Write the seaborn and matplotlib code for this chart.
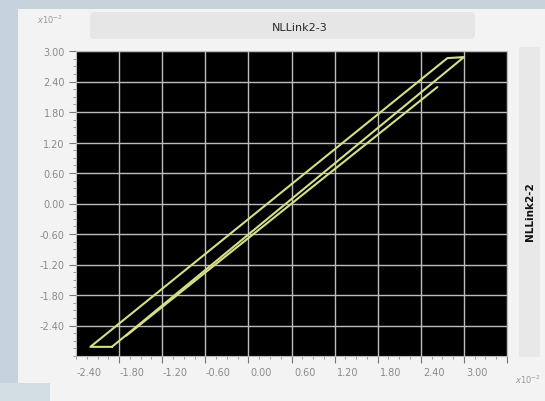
import numpy as np
import pandas as pd
import matplotlib
matplotlib.use("Agg")
import matplotlib.pyplot as plt
from matplotlib.patches import Rectangle, FancyBboxPatch
from matplotlib.transforms import ScaledTranslation
import seaborn as sns

# ---- data (units of 1e-2) ----
outer_x = [-2.50, -2.80, 2.17, 2.40, -2.50]
outer_y = [-2.82, -2.82, 2.86, 2.88, -2.82]
inner_x = [-2.30, 2.03]
inner_y = [-2.60, 2.29]
tick_vals = [-2.4, -1.8, -1.2, -0.6, 0.0, 0.6, 1.2, 1.8, 2.4, 3.0]
tick_labels = ["-2.40", "-1.80", "-1.20", "-0.60", "0.00", "0.60", "1.20", "1.80", "2.40", "3.00"]
title_text = "NLLink2-3"
right_text = "NLLink2-2"

df = pd.DataFrame({
    "x": outer_x + inner_x,
    "y": outer_y + inner_y,
    "seg": ["outer"] * len(outer_x) + ["inner"] * len(inner_x),
})

sns.set_theme(style="white")
plt.rcParams["font.family"] = ["DejaVu Sans"]

fig = plt.figure(figsize=(5.45, 4.02), dpi=100)
fig.patch.set_facecolor("#c7d3dc")
# light panel
fig.add_artist(Rectangle((18 / 545, 0.0), 1 - 18 / 545, 1 - 10 / 402,
                         transform=fig.transFigure, facecolor="#f3f3f3",
                         edgecolor="none", zorder=0))
# bluish bottom-left corner
fig.add_artist(Rectangle((0, 0), 50 / 545, 18 / 402,
                         transform=fig.transFigure, facecolor="#d3dde4",
                         edgecolor="none", zorder=0.5))
# title bar
fig.add_artist(FancyBboxPatch((90 / 545, 1 - 40 / 402), (475 - 90) / 545, 27 / 402,
                              boxstyle="round,pad=0.0,rounding_size=0.01",
                              transform=fig.transFigure, facecolor="#e6e6e6",
                              edgecolor="none", zorder=1))
fig.text(300 / 545, 1 - 28 / 402, title_text, ha="center", va="center",
         fontsize=8, color="#2a2a2a")
# right bar
fig.add_artist(Rectangle((519 / 545, 1 - 358 / 402), 21 / 545, (358 - 48) / 402,
                         transform=fig.transFigure, facecolor="#e8e8e8",
                         edgecolor="none", zorder=1))
fig.text(530 / 545, 1 - 212 / 402, right_text, ha="center", va="center",
         rotation=90, fontsize=7.5, fontweight="bold", color="#111111")
# exponent labels
fig.text(50 / 545, 1 - 20 / 402, r"$x10^{-2}$", ha="center", va="center",
         fontsize=6, color="#999999", style="italic")
fig.text(528 / 545, 1 - 380 / 402, r"$x10^{-2}$", ha="center", va="center",
         fontsize=6, color="#999999", style="italic")

ax = fig.add_axes([76 / 545, 1 - 357 / 402, (507 - 76) / 545, (357 - 52) / 402])
ax.set_facecolor("black")

sns.lineplot(data=df, x="x", y="y", units="seg", estimator=None, sort=False,
             color="#d6de88", linewidth=1.5, ax=ax, legend=False)

ax.set_xlim(-3.0, 3.0)
ax.set_ylim(-3.0, 3.0)
ax.set_xticks(tick_vals)
ax.set_xticklabels(tick_labels)
ax.set_yticks(tick_vals)
ax.set_yticklabels(tick_labels)
ax.set_xticks(np.arange(-3.0, 3.01, 0.15), minor=True)
ax.set_yticks(np.arange(-3.0, 3.01, 0.15), minor=True)
ax.grid(True, which="major", color="#bdbdbd", linewidth=1.0)
ax.set_axisbelow(True)
ax.tick_params(axis="both", which="major", length=5, width=0.8, color="#777777",
               labelsize=7, labelcolor="#8a8a8a", direction="out", pad=3)
ax.tick_params(axis="both", which="minor", length=2.5, width=0.6, color="#888888",
               direction="out")
ax.tick_params(bottom=True, left=True, which="both")
for s in ax.spines.values():
    s.set_color("#bbbbbb")
    s.set_linewidth(0.8)
ax.set_xlabel("")
ax.set_ylabel("")

offset = ScaledTranslation(-30 / 100, 0, fig.dpi_scale_trans)
for lab in ax.xaxis.get_majorticklabels():
    lab.set_transform(lab.get_transform() + offset)

fig.savefig("out.png", dpi=100, facecolor=fig.get_facecolor())
